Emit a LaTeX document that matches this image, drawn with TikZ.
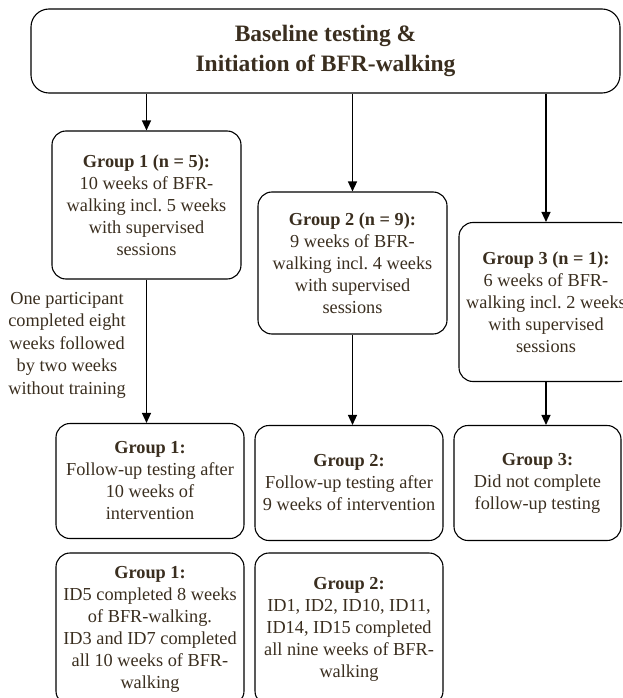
\documentclass[tikz,border=0pt]{standalone}
\usepackage{fontspec}
\setmainfont{Liberation Serif}
\usetikzlibrary{arrows.meta}
\definecolor{txtbrown}{HTML}{3A2E1F}

\begin{document}
\begin{tikzpicture}[x=1pt, y=-1pt]
    \tikzset{grpbox/.style={draw, line width=1.1pt, rounded corners=14pt, align=center, text=txtbrown, inner sep=0pt, font=\fontsize{18.3}{22}\selectfont}} %% rounded boxes
    \tikzset{flowarrow/.style={-{Triangle[length=10pt,width=9pt]}, line width=1.3pt}}
    \clip (0,0) rectangle (622,698);

    % top box
    \node[grpbox, rounded corners=18pt, minimum width=589, minimum height=84, font=\bfseries\fontsize{23.5}{29.5}\selectfont] (base) at (325.5,51) {Baseline testing \&\\Initiation of BFR-walking};

    % groups
    \node[grpbox, minimum width=189, minimum height=148] (g1) at (146.5,205) {\textbf{Group 1 (n = 5):}\\10 weeks of BFR-\\walking incl.\ 5 weeks\\with supervised\\sessions};
    \node[grpbox, minimum width=189, minimum height=142] (g2) at (352.5,263) {\textbf{Group 2 (n = 9):}\\9 weeks of BFR-\\walking incl.\ 4 weeks\\with supervised\\sessions};
    \node[grpbox, minimum width=174, minimum height=159] (g3) at (546,302) {\textbf{Group 3 (n = 1):}\\6 weeks of BFR-\\walking incl.\ 2 weeks\\with supervised\\sessions};

    \node[align=center, text=txtbrown, font=\fontsize{18.3}{22.5}\selectfont] (note) at (67,345) {One participant\\completed eight\\weeks followed\\by two weeks\\without training};

    % follow-up
    \node[grpbox, minimum width=188, minimum height=115] (f1) at (150,481) {\textbf{Group 1:}\\Follow-up testing after\\10 weeks of\\intervention};
    \node[grpbox, minimum width=188, minimum height=115] (f2) at (349,483) {\textbf{Group 2:}\\Follow-up testing after\\9 weeks of intervention};
    \node[grpbox, minimum width=167, minimum height=115] (f3) at (537.5,483) {\textbf{Group 3:}\\Did not complete\\follow-up testing};

    % completed weeks
    \node[grpbox, minimum width=188, minimum height=152] (e1) at (150,629) {\textbf{Group 1:}\\ID5 completed 8 weeks\\of BFR-walking.\\ID3 and ID7 completed\\all 10 weeks of BFR-\\walking};
    \node[grpbox, minimum width=188, minimum height=152] (e2) at (349,629) {\textbf{Group 2:}\\ID1, ID2, ID10, ID11,\\ID14, ID15 completed\\all nine weeks of BFR-\\walking};

    \foreach \g/\f in {g1/f1, g2/f2, g3/f3} {
            \draw[flowarrow] (\g.north |- base.south) -- (\g.north);
            \draw[flowarrow] (\g.south) -- (\g.south |- \f.north);
        }
\end{tikzpicture}
\end{document}
